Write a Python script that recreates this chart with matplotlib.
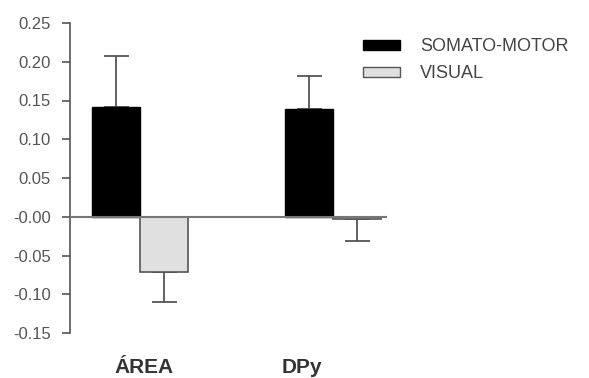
import numpy as np
import matplotlib.pyplot as plt
from matplotlib.patches import Patch

groups = ['ÁREA', 'DPy']
series = ['SOMATO-MOTOR', 'VISUAL']
somato = [0.141, 0.139]
somato_err = [0.066, 0.042]
visual = [-0.071, -0.003]
visual_err = [0.039, 0.028]
yticks = [-0.15, -0.10, -0.05, 0.00, 0.05, 0.10, 0.15, 0.20, 0.25]
ytick_labels = ['-0.15', '-0.10', '-0.05', '-0.00', '0.05', '0.10', '0.15', '0.20', '0.25']

plt.rcParams['font.family'] = ['Liberation Sans', 'DejaVu Sans']

fig = plt.figure(figsize=(5.89, 3.78), dpi=100)
ax = fig.add_axes([70 / 589, 1 - 333 / 378, 317 / 589, 310 / 378])

x = np.arange(len(groups))
w = 0.25
grey = '#555555'

# one-sided error bars, drawn under the bars
ax.errorbar(x - w / 2, somato, yerr=[np.zeros(2), somato_err], fmt='none',
            ecolor=grey, elinewidth=1.3, capsize=9, capthick=1.3, zorder=1)
ax.errorbar(x + w / 2, visual, yerr=[visual_err, np.zeros(2)], fmt='none',
            ecolor=grey, elinewidth=1.3, capsize=9, capthick=1.3, zorder=1)

ax.bar(x - w / 2, somato, w, color='black', edgecolor='black', linewidth=1, zorder=2)
ax.bar(x + w / 2, visual, w, color='#e0e0e0', edgecolor=grey, linewidth=1.2, zorder=2)

ax.axhline(0, color='#777777', linewidth=1.5, zorder=3)

ax.set_xlim(-0.363, 1.28)
ax.set_ylim(-0.15, 0.25)
ax.set_yticks(yticks)
ax.set_yticklabels(ytick_labels)
ax.tick_params(axis='y', colors=grey, labelcolor='#555555', labelsize=12,
               length=6, width=1.2, direction='out', pad=8)

ax.set_xticks([0.02, 0.84])
ax.set_xticklabels(groups, fontsize=15, fontweight='bold', color='#333333')
ax.tick_params(axis='x', length=0, pad=18)

for s in ['top', 'right', 'bottom']:
    ax.spines[s].set_visible(False)
ax.spines['left'].set_color(grey)
ax.spines['left'].set_linewidth(1.2)

handles = [Patch(facecolor='black', edgecolor='black'),
           Patch(facecolor='#e0e0e0', edgecolor=grey)]
fig.legend(handles, series, loc='upper left', bbox_to_anchor=(347 / 589, 1 - 22 / 378),
           frameon=False, fontsize=13, handlelength=2.05, handleheight=0.45,
           handletextpad=1.1, labelspacing=0.55, labelcolor='#444444')

fig.savefig('out.png', dpi=100)
